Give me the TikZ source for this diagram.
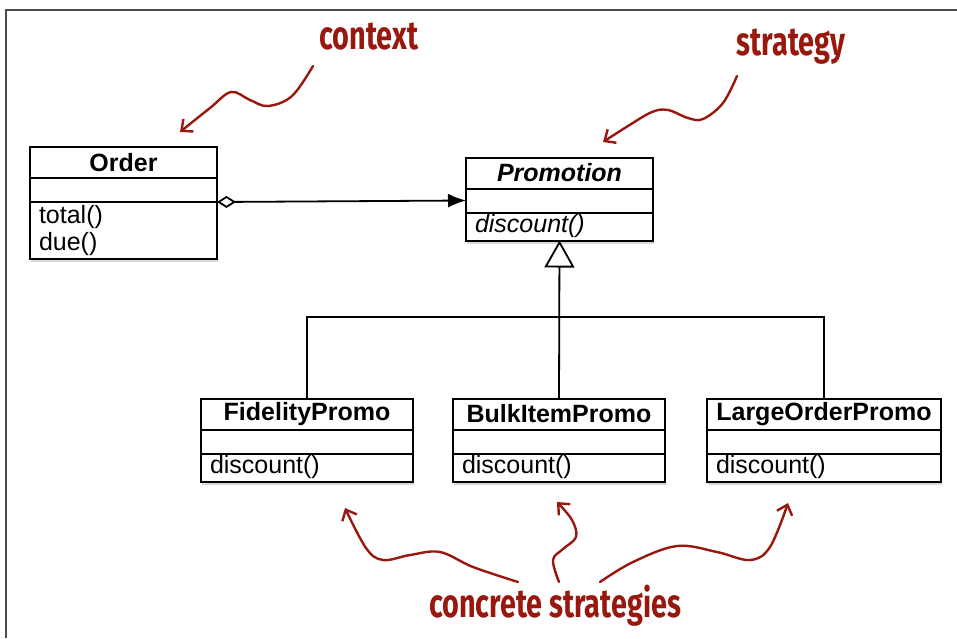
\documentclass[tikz,border=0pt]{standalone}
\usepackage{fontspec}
\setmainfont{Liberation Sans}
\newfontfamily\notefont[FakeStretch=0.72]{Fira Sans}
\usetikzlibrary{positioning, arrows.meta, shadows, fit, backgrounds}
\definecolor{notered}{RGB}{152,24,14}

\begin{document}
\begin{tikzpicture}[x=1pt, y=-1pt, node distance=0pt,
    font=\fontsize{25}{27}\selectfont,
    cls/.style={draw, line width=2pt, inner xsep=9pt, inner ysep=0pt, outer sep=0pt, text width=#1},
    cname/.style={cls=#1, minimum height=31pt, align=center, font=\fontsize{25}{27}\selectfont\bfseries},
    cattr/.style={cls=#1, minimum height=24pt},
    cmeth/.style={cls=#1, minimum height=28pt, align=left},
    uml/.style={line width=1.8pt},
    note/.style={text=notered, font=\notefont\bfseries\fontsize{40}{44}\selectfont, inner sep=2pt},
    noteline/.style={draw=notered, line width=2.4pt, line cap=round, -{Straight Barb[length=9pt,width=16pt]}}]
    \useasboundingbox (0,0) rectangle (957,638);
    \draw[line width=2pt, black!70] (6,638) -- (6,10) -- (957,10);

    % context
    \node[cname=169pt] (order) at (123.5,162.5) {Order};
    \node[cattr=169pt, below=of order] (order-a) {};
    \node[cmeth=169pt, below=of order-a, minimum height=57pt] (order-m) {total()\\due()};

    % strategy
    \node[cname=169pt] (promo) at (559.5,173) {\itshape Promotion};
    \node[cattr=169pt, below=of promo] (promo-a) {};
    \node[cmeth=169pt, below=of promo-a] (promo-m) {\itshape discount()};

    % concrete strategies
    \node[cname=194pt] (fid) at (307,414) {FidelityPromo};
    \node[cattr=194pt, below=of fid] (fid-a) {};
    \node[cmeth=194pt, below=of fid-a] (fid-m) {discount()};

    \node[cname=194pt] (bulk) at (559,414) {BulkItemPromo};
    \node[cattr=194pt, below=of bulk] (bulk-a) {};
    \node[cmeth=194pt, below=of bulk-a] (bulk-m) {discount()};

    \node[cname=216pt] (large) at (824,414) {LargeOrderPromo};
    \node[cattr=216pt, below=of large] (large-a) {};
    \node[cmeth=216pt, below=of large-a] (large-m) {discount()};

    \begin{scope}[on background layer]
        \foreach \c in {order, promo, fid, bulk, large}
            \node[fit=(\c)(\c-m), inner sep=0pt, fill=white,
                  drop shadow={shadow xshift=1pt, shadow yshift=-3pt, opacity=0.3}] (\c-bg) {};
    \end{scope}

    \draw[uml, {Diamond[open,length=19pt,width=12pt]}-{Latex[length=18pt,width=14pt]}] (order-a.south east) -- (promo-a.west);
    \draw[uml, -{Triangle[open,length=27pt,width=30pt]}] (bulk.north) -- (promo-m.south);
    \coordinate (bar) at (559,317);
    \draw[uml] (fid.north) -- (fid.north |- bar) -- (large.north |- bar) -- (large.north);

    % notes
    \node[note] (ctx) at (369,37) {context};
    \node[note] (strat) at (791,47) {strategy};
    \node[note] (conc) at (555,606) {concrete strategies};

    \coordinate (ctx-a) at (313,66);
    \coordinate (ctx-b) at (180,132);
    \coordinate (strat-a) at (737,76);
    \coordinate (strat-b) at (603,142);
    \coordinate (conc-a) at (518,582);
    \coordinate (conc-b) at (559,582);
    \coordinate (conc-c) at (600,582);

    \draw[noteline] plot[smooth, tension=0.6] coordinates {(ctx-a) (292,96) (268,106) (250,100) (231,92) (210,108) (ctx-b)};
    \draw[noteline] plot[smooth, tension=0.6] coordinates {(strat-a) (723,103) (703,119) (688,118) (668,110) (652,112) (628,126) (strat-b)};
    \draw[noteline] plot[smooth, tension=0.6] coordinates {(conc-a) (473,567) (440,552) (410,555) (383,560) (366,548) (345,508)};
    \draw[noteline] plot[smooth, tension=0.6] coordinates {(conc-b) (553,560) (563,549) (576,537) (572,520) (557,502)};
    \draw[noteline] plot[smooth, tension=0.6] coordinates {(conc-c) (633,562) (677,546) (717,552) (750,560) (770,547) (788,503)};
\end{tikzpicture}
\end{document}
